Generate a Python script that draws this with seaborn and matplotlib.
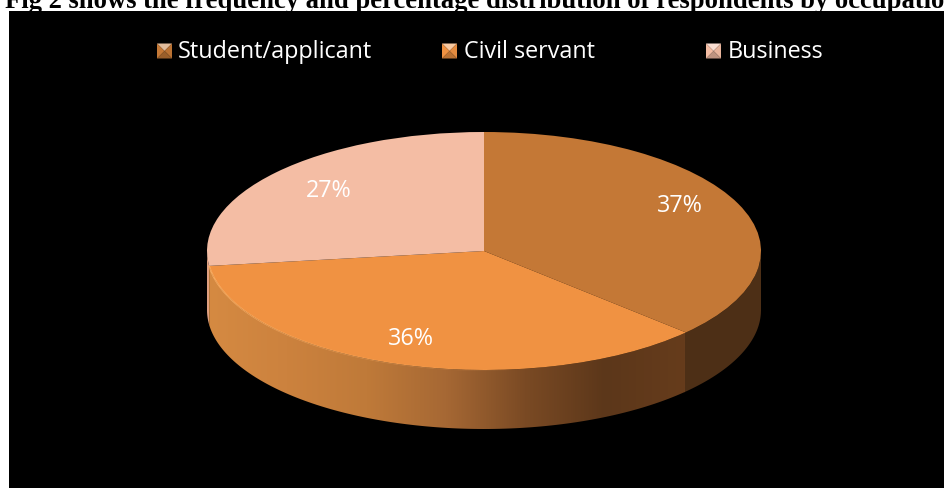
import numpy as np
import matplotlib
matplotlib.use("Agg")
import matplotlib.pyplot as plt
from matplotlib.patches import Polygon
from matplotlib.collections import LineCollection
import seaborn as sns

occupations = ["Student/applicant", "Civil servant", "Business"]
shares = [37, 36, 27]
title_text = "Fig 2 shows the frequency and percentage distribution of respondents by occupation"

top_colors = ["#C47836", "#F09242", "#F4BDA4"]
wall_student = "#4D2F16"
wall_business = "#E0A080"
wall_ramp = ["#D58A42", "#CC823E", "#BF7A39", "#A66834", "#7A4A24", "#5C371A", "#663C1C"]

W, H = 944, 488
CX, CY, RX, RY, DEPTH = 484, 251, 277, 119, 59 / 119

sns.set_theme(style="white", rc={"font.family": ["Open Sans", "DejaVu Sans"]})
fig = plt.figure(figsize=(W / 100, H / 100), dpi=100, facecolor="white")

# Black chart panel; one data unit is the pie radius, squashed vertically by the limits.
ax = fig.add_axes([9 / W, 0, (W - 9) / W, (H - 11) / H])
wedges, _, pct = ax.pie(
    shares, colors=top_colors, startangle=90, counterclock=False, radius=1,
    autopct="%.0f%%", textprops={"color": "white", "fontsize": 16.8},
    wedgeprops={"linewidth": 0},
)
for w in wedges:
    w.set_zorder(3)
for t, pos in zip(pct, [(0.706, 0.378), (-0.265, -0.74), (-0.56, 0.504)]):
    t.set_position(pos)
    t.set_zorder(5)

# Slice boundaries along the rim, in degrees, running clockwise from 12 o'clock.
edges = 90 - 360 * np.cumsum([0] + shares) / sum(shares)


def wall(a0, a1):
    th = np.radians(np.linspace(a0, a1, 120))
    x, y = np.cos(th), np.sin(th)
    return np.r_[np.c_[x, y], np.c_[x, y - DEPTH][::-1]]


# The dark wall runs slightly under the gradient wall so no gap opens at the seam.
ax.add_patch(Polygon(wall(0, edges[1] - 0.6), closed=True, fc=wall_student, lw=0, zorder=1.5))
ax.add_patch(Polygon(wall(edges[2], -180), closed=True, fc=wall_business, lw=0, zorder=2))

# The civil-servant wall shades from lit on the left to dark on the right.
ramp = sns.blend_palette(wall_ramp, n_colors=256, as_cmap=True)
gx0, gx1 = -1, (685 - CX) / RX
img = ax.imshow(np.linspace(0, 1, 256)[None, :], cmap=ramp, aspect="auto",
                extent=(gx0, gx1, -2, 1), zorder=2)
clip = Polygon(wall(edges[1], edges[2]), closed=True, transform=ax.transData)
img.set_clip_path(clip)

# Bright bevel along the front rim, fading towards the centre.
th = np.radians(np.linspace(edges[2], -80, 160))
pts = np.c_[np.cos(th), np.sin(th)].reshape(-1, 1, 2)
segs = np.concatenate([pts[:-1], pts[1:]], axis=1)
rgba = np.tile(matplotlib.colors.to_rgba("#FFB266"), (len(segs), 1))
rgba[:, 3] = np.linspace(0.95, 0.0, len(segs))
ax.add_collection(LineCollection(segs, colors=rgba, linewidths=1.1, zorder=4))

ax.set_aspect("auto")
ax.set_xlim((9 - CX) / RX, (W - CX) / RX)
ax.set_ylim((CY - H) / RY, (CY - 11) / RY)
ax.set_xticks([])
ax.set_yticks([])
ax.set_frame_on(True)
ax.patch.set_facecolor("black")
for spine in ax.spines.values():
    spine.set_visible(False)

# Legend row and title, placed in pixel coordinates on a transparent overlay.
ov = fig.add_axes([0, 0, 1, 1], facecolor="none")
ov.set_xlim(0, W)
ov.set_ylim(H, 0)
ov.axis("off")

legend_x = [157, 442, 706]
legend_text_x = [178, 464, 728]
legend_y, sq = 51, 15


def shade(color, f):
    c = np.array(matplotlib.colors.to_rgb(color))
    return tuple(c * f if f < 1 else c + (1 - c) * (f - 1))


for name, col, x0, tx in zip(occupations, top_colors, legend_x, legend_text_x):
    y0 = legend_y - sq / 2
    cx, cy = x0 + sq / 2, legend_y
    corners = [(x0, y0), (x0 + sq, y0), (x0 + sq, y0 + sq), (x0, y0 + sq)]
    for i, f in enumerate([1.5, 0.95, 0.78, 1.0]):
        ov.add_patch(Polygon([corners[i], corners[(i + 1) % 4], (cx, cy)],
                             closed=True, fc=shade(col, f), lw=0))
    ov.text(tx, legend_y + 1, name, color="white", fontsize=16.8, va="center", ha="left")

ov.text(5, 8, title_text, family="Liberation Serif", fontweight="bold",
        fontsize=19.2, color="black", va="baseline", ha="left", clip_on=False)

fig.savefig("out.png", dpi=100, facecolor="white")
